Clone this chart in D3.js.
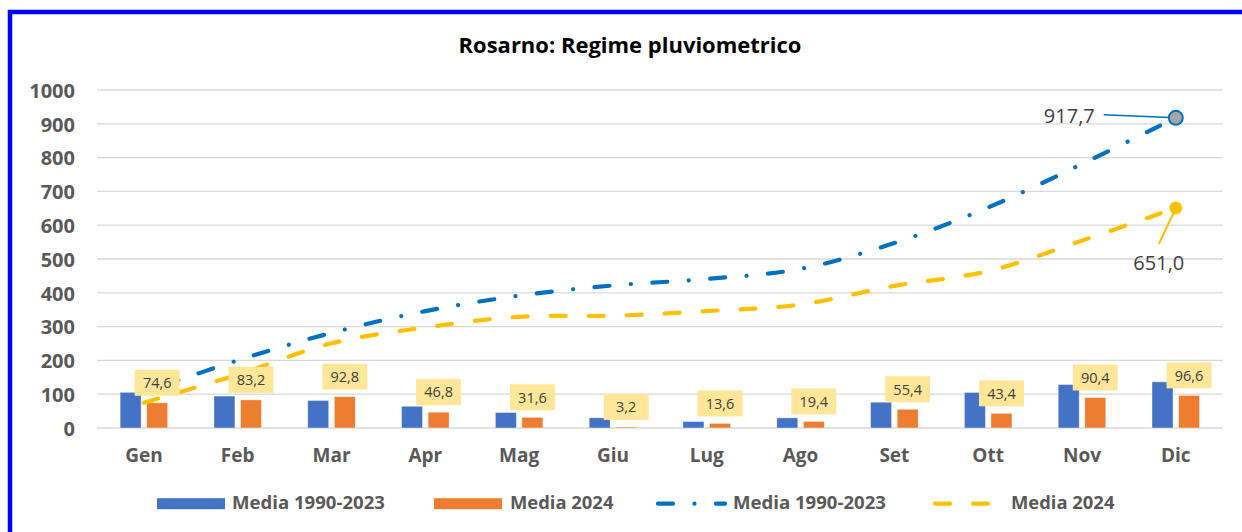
<!DOCTYPE html>
<html>
<head>
<meta charset="utf-8">
<script src="https://cdn.jsdelivr.net/npm/d3@7"></script>
<style>
  html, body { margin: 0; padding: 0; background: #fff; }
  svg { display: block; }
  text { font-family: "Open Sans", "Noto Sans", sans-serif; }
</style>
</head>
<body>
<svg id="chart" width="1242" height="532"></svg>
<script>
// ---- DATA ----
const title = "Rosarno: Regime pluviometrico";
const months = ["Gen","Feb","Mar","Apr","Mag","Giu","Lug","Ago","Set","Ott","Nov","Dic"];
const media19902023 = [105.6, 94.5, 81.4, 64.3, 45.8, 30.2, 19.1, 30.0, 76.4, 105.2, 128.6, 136.6];
const media2024 = [74.6, 83.2, 92.8, 46.8, 31.6, 3.2, 13.6, 19.4, 55.4, 43.4, 90.4, 96.6];
const yTicks = [0, 100, 200, 300, 400, 500, 600, 700, 800, 900, 1000];
const seriesNames = ["Media 1990-2023", "Media 2024"];

// cumulative series (lines)
const cum = arr => { let s = 0; return arr.map(v => (s += v)); };
const cum19902023 = cum(media19902023);
const cum2024 = cum(media2024);

const fmt = v => d3.format(".1f")(v).replace(".", ",");

const C = {
  blueBar: "#4472C4", orangeBar: "#ED7D31",
  blueLine: "#0070C0", yellowLine: "#FFC000",
  label: "#FFE699", text: "#404040", axis: "#595959", grid: "#D9D9D9"
};

const svg = d3.select("#chart");

// outer blue border
svg.append("rect").attr("x", 10).attr("y", 12).attr("width", 1260).attr("height", 560)
  .attr("fill", "#fff").attr("stroke", "#0000FF").attr("stroke-width", 4.5);

const x = d3.scaleBand().domain(months).range([97, 1222.7]).padding(0);
const y = d3.scaleLinear().domain([0, 1000]).range([428, 90]);
const half = x.bandwidth() * 0.2535;
const xs = d3.scaleBand().domain(seriesNames).range([-half, half]).paddingInner(0.21);
const cx = m => x(m) + x.bandwidth() / 2;

function fit(sel, w) {
  const n = sel.node();
  const fs = parseFloat(sel.attr("font-size"));
  const len = n.getComputedTextLength();
  sel.attr("font-size", fs * w / len);
}

// title
svg.append("text").attr("x", 630).attr("y", 53).attr("text-anchor", "middle")
  .attr("font-size", 19).attr("font-weight", 700).attr("fill", "#000")
  .text(title).call(fit, 343);

// gridlines
svg.append("g").selectAll("line").data(yTicks).join("line")
  .attr("x1", x.range()[0]).attr("x2", x.range()[1])
  .attr("y1", d => y(d)).attr("y2", d => y(d))
  .attr("stroke", C.grid).attr("stroke-width", 1.3);

// y axis labels
const yAxis = svg.append("g").attr("transform", "translate(75,0)")
  .call(d3.axisLeft(y).tickValues(yTicks).tickFormat(d3.format("d")).tickSize(0).tickPadding(0));
yAxis.select(".domain").remove();
yAxis.selectAll("text").attr("font-family", "'Open Sans', sans-serif")
  .attr("font-size", 20).attr("font-weight", 700).attr("fill", C.axis).attr("dy", "0.36em");

// x axis labels
const xAxis = svg.append("g").attr("transform", "translate(0,462)")
  .call(d3.axisBottom(x).tickSize(0).tickPadding(0));
xAxis.select(".domain").remove();
xAxis.selectAll("text").attr("font-family", "'Open Sans', sans-serif")
  .attr("font-size", 19).attr("font-weight", 700).attr("fill", C.axis).attr("dy", 0);

// bars
const bars = [media19902023, media2024];
const barColors = [C.blueBar, C.orangeBar];
bars.forEach((arr, i) => {
  svg.append("g").selectAll("rect").data(arr).join("rect")
    .attr("x", (d, j) => cx(months[j]) + xs(seriesNames[i]))
    .attr("width", xs.bandwidth())
    .attr("y", d => y(d)).attr("height", d => y(0) - y(d))
    .attr("fill", barColors[i]).attr("stroke", "#fff").attr("stroke-opacity", 0.5).attr("stroke-width", 0.8);
});

// cumulative lines
const line = d3.line().x((d, j) => cx(months[j])).y(d => y(d)).curve(d3.curveCatmullRom.alpha(0.5));
const dashBlue = "15,21.5,0.01,21.5";
const dashYellow = "15,23";
svg.append("path").datum(cum2024).attr("d", line).attr("fill", "none")
  .attr("stroke", C.yellowLine).attr("stroke-width", 4.2).attr("stroke-linecap", "round")
  .attr("stroke-dasharray", dashYellow);
svg.append("path").datum(cum19902023).attr("d", line).attr("fill", "none")
  .attr("stroke", C.blueLine).attr("stroke-width", 4.2).attr("stroke-linecap", "round")
  .attr("stroke-dasharray", dashBlue);

// data labels for 2024 bars (on top of lines)
const lbl = svg.append("g").selectAll("g").data(media2024).join("g")
  .attr("transform", (d, j) => `translate(${cx(months[j]) + xs(seriesNames[1]) + xs.bandwidth() / 2},${y(d) - 7})`);
lbl.append("rect").attr("x", -22.5).attr("y", -26).attr("width", 45).attr("height", 26).attr("fill", C.label);
lbl.append("text").attr("x", 0).attr("y", -13).attr("dy", "0.36em").attr("text-anchor", "middle")
  .attr("font-size", 14.5).attr("fill", C.text).text(d => fmt(d));

// end markers + annotations
const last = months.length - 1;
const bx = cx(months[last]), by = y(cum19902023[last]);
const ox = cx(months[last]), oy = y(cum2024[last]);
svg.append("line").attr("x1", bx - 72).attr("y1", by - 3).attr("x2", bx).attr("y2", by)
  .attr("stroke", C.blueLine).attr("stroke-width", 1.6);
svg.append("circle").attr("cx", bx).attr("cy", by).attr("r", 7)
  .attr("fill", "#A5A5A5").attr("stroke", C.blueLine).attr("stroke-width", 2);
svg.append("text").attr("x", bx - 81).attr("y", by + 5.5).attr("text-anchor", "end")
  .attr("font-size", 20).attr("fill", C.text).text(fmt(cum19902023[last]));

svg.append("line").attr("x1", ox - 17).attr("y1", oy + 36).attr("x2", ox).attr("y2", oy)
  .attr("stroke", C.yellowLine).attr("stroke-width", 2);
svg.append("circle").attr("cx", ox).attr("cy", oy).attr("r", 6.5).attr("fill", C.yellowLine);
svg.append("text").attr("x", ox - 17).attr("y", oy + 62).attr("text-anchor", "middle")
  .attr("font-size", 20).attr("fill", C.text).text(fmt(cum2024[last]));

// legend
const legend = svg.append("g");
const legY = 503.7;
const legItems = [
  {name: seriesNames[0], type: "bar", color: C.blueBar, x0: 157, x1: 225, tx: 232},
  {name: seriesNames[1], type: "bar", color: C.orangeBar, x0: 434, x1: 502, tx: 510},
  {name: seriesNames[0], type: "line", color: C.blueLine, dash: dashBlue, x0: 658, x1: 725, tx: 733},
  {name: seriesNames[1], type: "line", color: C.yellowLine, dash: dashYellow, x0: 935, x1: 990, tx: 1011}
];
legItems.forEach(it => {
  if (it.type === "bar") {
    legend.append("rect").attr("x", it.x0).attr("y", legY - 5.5).attr("width", it.x1 - it.x0).attr("height", 11)
      .attr("fill", it.color);
  } else {
    legend.append("line").attr("x1", it.x0).attr("x2", it.x1).attr("y1", legY).attr("y2", legY)
      .attr("stroke", it.color).attr("stroke-width", 4.2).attr("stroke-linecap", "round")
      .attr("stroke-dasharray", it.dash);
  }
  legend.append("text").attr("x", it.tx).attr("y", 508.5).attr("font-size", 16).attr("font-weight", 700)
    .attr("fill", C.axis).text(it.name).call(fit, it.name === seriesNames[0] ? 153 : 103.5);
});
</script>
</body>
</html>
